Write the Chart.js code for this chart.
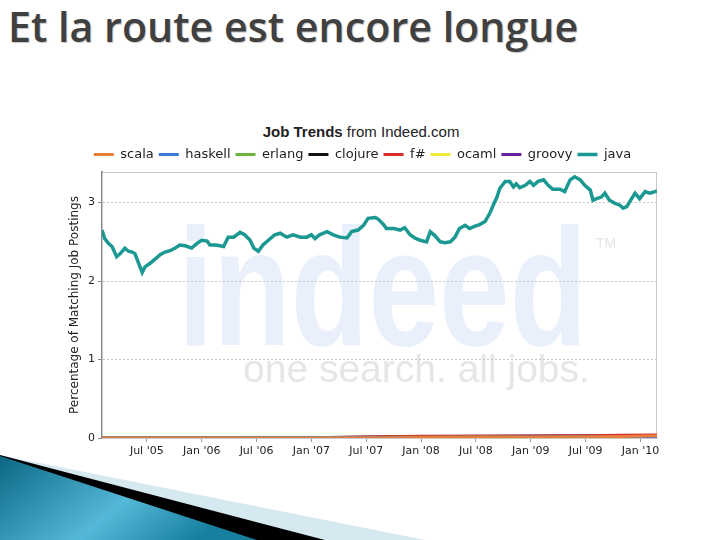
<!DOCTYPE html>
<html>
<head>
<meta charset="utf-8">
<script src="https://cdn.jsdelivr.net/npm/chart.js@4.4.0/dist/chart.umd.min.js"></script>
<style>
  html, body { margin: 0; padding: 0; background: #fff; }
  #slide { position: relative; width: 720px; height: 540px; overflow: hidden; background: #fff; }
  #titre { position: absolute; left: 8px; top: -2px; font-family: "Open Sans"; font-weight: 600; font-size: 41px;
           color: #404040; text-shadow: 1px 1px 1px #c4c4c4; white-space: nowrap; transform-origin: 0 0; }
  #chartTitle { position: absolute; left: 0; width: 722px; top: 123px; text-align: center;
                font-family: "Liberation Sans"; font-size: 15px; color: #222; }
  #wrap { position: absolute; left: 60px; top: 143px; width: 605px; height: 322px; }
  svg { position: absolute; left: 0; top: 0; }
</style>
</head>
<body>
<div id="slide">
  <svg width="720" height="540">
    <defs>
      <linearGradient id="bleu" x1="0" y1="0" x2="1" y2="0.4">
        <stop offset="0" stop-color="#0a6783"/>
        <stop offset="0.6" stop-color="#55b8d8"/>
        <stop offset="1" stop-color="#17809f"/>
      </linearGradient>
    </defs>
    <polygon points="0,455 425,540 0,540" fill="#d6e9f0"/>
    <polygon points="0,455 325,540 0,540" fill="#000"/>
    <polygon points="0,456 257,540 0,540" fill="url(#bleu)"/>
  </svg>
  <div id="titre">Et la route est encore longue</div>
  <div id="chartTitle"><b>Job Trends</b> from Indeed.com</div>
  <div id="wrap"><canvas id="graf" width="605" height="322"></canvas></div>
</div>
<script>
// months counted from Jan 2005 (6 = Jul '05, 12 = Jan '06, ...)
const javaMonths = [1.1,1.4,1.8,2.2,2.7,3.1,3.6,4.0,4.4,4.7,
  5.1,5.5,5.8,6.4,6.9,7.5,8.0,8.6,9.1,9.6,
  10.2,10.9,11.5,12.0,12.6,12.9,13.5,14.0,14.4,14.9,
  15.5,16.2,16.7,17.3,17.7,18.2,18.7,19.3,20.0,20.6,
  21.3,22.0,22.8,23.5,24.0,24.4,24.9,25.7,26.4,27.1,
  27.9,28.4,29.1,29.7,30.2,31.0,31.3,31.9,32.2,33.0,
  33.7,34.2,34.8,35.3,35.9,36.6,37.0,37.5,38.1,38.6,
  39.2,39.7,40.2,40.8,41.3,41.9,42.4,43.0,43.5,43.9,
  44.3,44.6,45.2,45.7,46.1,46.4,46.8,47.4,47.9,48.3,
  48.8,49.4,49.9,50.4,51.2,51.7,52.3,52.8,53.4,53.9,
  54.5,54.8,55.2,55.7,56.1,56.6,57.2,57.7,58.1,58.5,
  58.8,59.4,59.9,60.5,61.0,61.6,61.8];
const java = [2.65,2.54,2.48,2.44,2.31,2.35,2.42,2.38,2.37,2.35,
  2.23,2.11,2.18,2.23,2.28,2.34,2.37,2.39,2.42,2.46,
  2.45,2.42,2.48,2.52,2.51,2.46,2.46,2.45,2.44,2.56,
  2.56,2.62,2.59,2.52,2.42,2.38,2.46,2.52,2.59,2.61,
  2.56,2.59,2.56,2.56,2.59,2.54,2.59,2.63,2.59,2.56,
  2.55,2.63,2.65,2.71,2.80,2.81,2.79,2.72,2.67,2.67,
  2.65,2.68,2.59,2.55,2.52,2.50,2.63,2.58,2.50,2.49,
  2.50,2.56,2.67,2.71,2.67,2.70,2.72,2.76,2.86,2.97,
  3.07,3.18,3.27,3.27,3.20,3.24,3.19,3.22,3.27,3.22,
  3.27,3.29,3.22,3.17,3.17,3.14,3.29,3.33,3.29,3.22,
  3.16,3.03,3.05,3.07,3.12,3.03,2.99,2.97,2.93,2.95,
  3.01,3.12,3.05,3.14,3.12,3.14,3.15];

// the small languages, read at fewer dates
const lowMonths = [1.1, 12, 24, 33.5, 36, 42, 48, 54, 58, 61.8];
const scala   = [0, 0, 0, 0.004, 0.006, 0.008, 0.01, 0.014, 0.02, 0.03];
const haskell = [0, 0, 0.002, 0.004, 0.005, 0.006, 0.008, 0.01, 0.012, 0.013];
const erlang  = [0.002, 0.003, 0.005, 0.008, 0.01, 0.012, 0.014, 0.015, 0.016, 0.016];
const clojure = [0, 0, 0, 0, 0, 0, 0.002, 0.004, 0.005, 0.006];
const fsharp  = [0, 0, 0, 0.02, 0.022, 0.022, 0.024, 0.028, 0.034, 0.038];
const ocaml   = [0.002, 0.002, 0.003, 0.004, 0.004, 0.004, 0.005, 0.005, 0.005, 0.005];
const groovy  = [0, 0, 0.004, 0.018, 0.02, 0.022, 0.024, 0.03, 0.03, 0.032];

const tickMonths = [6, 12, 18, 24, 30, 36, 42, 48, 54, 60];
const tickLabels = ["Jul '05", "Jan '06", "Jul '06", "Jan '07", "Jul '07", "Jan '08", "Jul '08", "Jan '09", "Jul '09", "Jan '10"];
const yTicks = [0, 1, 2, 3];

// squeeze the slide title to its width on the slide
const titre = document.getElementById('titre');
titre.style.transform = 'scaleX(' + (570 / titre.offsetWidth) + ')';

function pts(xs, ys) {
  return xs.map((x, i) => ({ x: x, y: ys[i] }));
}

function serie(label, color, xs, ys, w) {
  return {
    label: label,
    data: pts(xs, ys),
    borderColor: color,
    backgroundColor: color,
    borderWidth: w || 3,
    pointRadius: 0,
    tension: 0
  };
}

const legendGap = {
  id: 'legendGap',
  beforeInit(chart) {
    const fit = chart.legend.fit;
    chart.legend.fit = function() {
      fit.bind(chart.legend)();
      this.height = 29;
    };
  }
};

const fond = {
  id: 'fond',
  beforeDraw(chart) {
    const ctx = chart.ctx;
    const a = chart.chartArea;
    ctx.save();
    ctx.beginPath();
    ctx.rect(a.left, a.top, a.right - a.left, a.bottom - a.top);
    ctx.clip();
    // indeed watermark
    ctx.fillStyle = '#e9effb';
    ctx.font = 'bold 127px "Liberation Sans"';
    ctx.textBaseline = 'alphabetic';
    ctx.save();
    ctx.translate(a.left + 76, a.top + 173);
    ctx.scale(1, 1.32);
    ctx.fillText('indeed', 0, 0);
    ctx.restore();
    ctx.fillStyle = '#e6e6e6';
    ctx.font = '39px "Liberation Sans"';
    ctx.fillText('one search. all jobs.', a.left + 141, a.top + 210);
    ctx.font = '14px "Liberation Sans"';
    ctx.fillText('TM', a.left + 494, a.top + 76);
    ctx.restore();
  },
  beforeDatasetsDraw(chart) {
    const ctx = chart.ctx;
    const a = chart.chartArea;
    ctx.save();
    ctx.strokeStyle = '#c8c8c8';
    ctx.lineWidth = 1;
    ctx.strokeRect(a.left + 0.5, a.top + 0.5, a.right - a.left - 1, a.bottom - a.top);
    ctx.restore();
  }
};

new Chart(document.getElementById('graf').getContext('2d'), {
  type: 'line',
  data: {
    datasets: [
      serie('scala', '#e87d3e', lowMonths, scala),
      serie('haskell', '#3b78d8', lowMonths, haskell),
      serie('erlang', '#6ab43b', lowMonths, erlang),
      serie('clojure', '#111111', lowMonths, clojure),
      serie('f#', '#d92b2b', lowMonths, fsharp),
      serie('ocaml', '#f2ea3a', lowMonths, ocaml),
      serie('groovy', '#6b1fa0', lowMonths, groovy),
      serie('java', '#1b9892', javaMonths, java, 3.5)
    ]
  },
  options: {
    responsive: false,
    animation: false,
    layout: { padding: { left: 8, right: 8, top: 0, bottom: 0 } },
    plugins: {
      title: { display: false },
      tooltip: { enabled: false },
      legend: {
        display: true,
        position: 'top',
        labels: {
          usePointStyle: true,
          pointStyle: 'line',
          pointStyleWidth: 20,
          padding: 5,
          color: '#222',
          font: { family: 'DejaVu Sans', size: 13 }
        }
      }
    },
    scales: {
      x: {
        type: 'linear',
        min: 1.1,
        max: 61.8,
        afterBuildTicks: s => { s.ticks = tickMonths.map(v => ({ value: v })); },
        afterFit: s => { s.height = 27; },
        ticks: {
          autoSkip: false,
          maxRotation: 0,
          padding: 3,
          color: '#222',
          font: { family: 'DejaVu Sans', size: 11 },
          callback: (v, i) => tickLabels[i]
        },
        grid: { drawOnChartArea: false, tickLength: 4, tickColor: '#999' },
        border: { color: '#c8c8c8', width: 1 }
      },
      y: {
        min: 0,
        max: 3.39,
        afterBuildTicks: s => { s.ticks = yTicks.map(v => ({ value: v })); },
        afterFit: s => { s.width = 34; },
        ticks: {
          padding: 3,
          color: '#222',
          font: { family: 'DejaVu Sans', size: 11 }
        },
        grid: { color: '#c8c8c8', lineWidth: 1, tickLength: 4, tickColor: '#888' },
        border: { color: '#888', width: 2, dash: [2, 2] },
        title: {
          display: true,
          text: 'Percentage of Matching Job Postings',
          color: '#222',
          font: { family: 'DejaVu Sans', size: 12 },
          padding: { top: 0, bottom: 2 }
        }
      }
    }
  },
  plugins: [legendGap, fond]
});
</script>
</body>
</html>
